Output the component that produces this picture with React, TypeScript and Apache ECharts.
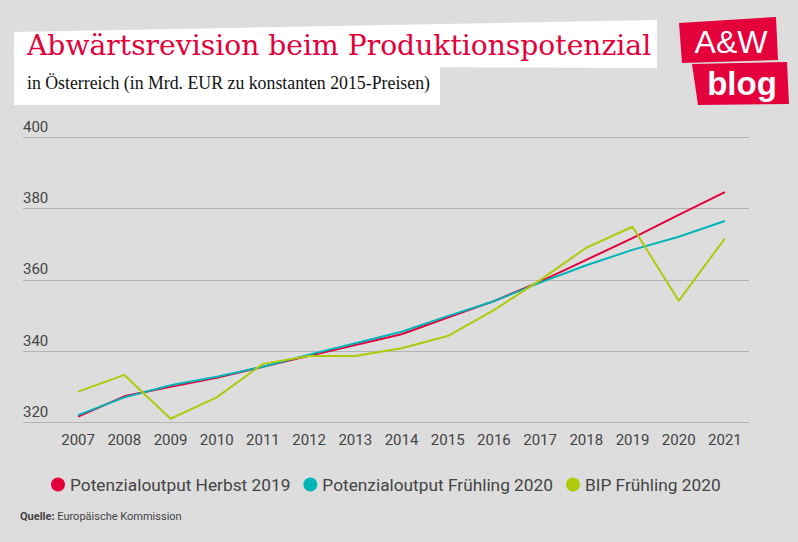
import React, { useEffect, useRef } from "react";
import * as echarts from "echarts";

const years = ["2007","2008","2009","2010","2011","2012","2013","2014","2015","2016","2017","2018","2019","2020","2021"];
const herbst2019 = [321.6,327.3,330.0,332.5,335.6,338.7,341.7,344.7,349.4,354.0,359.5,365.6,371.7,378.2,384.6];
const fruehling2020 = [322.0,327.0,330.4,332.8,335.6,339.0,342.2,345.4,349.8,354.0,359.2,364.1,368.4,372.1,376.5];
const bip2020 = [328.6,333.3,321.0,327.0,336.4,338.6,338.6,340.8,344.2,351.5,359.9,369.0,374.9,354.1,371.6];
const seriesNames = ["Potenzialoutput Herbst 2019","Potenzialoutput Frühling 2020","BIP Frühling 2020"];
const colors = ["#E4003B","#00B5B8","#AFCA0B"];
const yMin = 320, yMax = 400, yStep = 20;

export default function App() {
  const ref = useRef<HTMLDivElement>(null);
  useEffect(() => {
    document.body.style.margin = "0";
    const chart = echarts.init(ref.current!, null, { renderer: "svg" });
    const top = 137.3, bottom = 542 - 422.3;
    chart.setOption({
      animation: false,
      backgroundColor: "#DDDDDD",
      textStyle: { fontFamily: "Roboto" },
      grid: [
        { left: 55, right: 50, top, bottom },
        { left: 23, right: 49, top, bottom },
      ],
      xAxis: [
        {
          type: "category", gridIndex: 0, data: years, boundaryGap: true,
          axisLine: { show: false }, axisTick: { show: false },
          axisLabel: { color: "#444", fontSize: 15, margin: 10, fontFamily: "Roboto" },
        },
        { type: "value", gridIndex: 1, show: false, min: 0, max: 1 },
      ],
      yAxis: [
        { type: "value", gridIndex: 0, min: yMin, max: yMax, interval: yStep, show: false, splitLine: { show: false } },
        {
          type: "value", gridIndex: 1, min: yMin, max: yMax, interval: yStep,
          axisLine: { show: false }, axisTick: { show: false },
          axisLabel: { inside: true, margin: 0, color: "#444", fontSize: 15, verticalAlign: "bottom", padding: [0, 0, 3, 0], fontFamily: "Roboto" },
          splitLine: { show: true, lineStyle: { color: "#B4B4B4", width: 1 } },
        },
      ],
      legend: {
        data: seriesNames, left: 51, top: 476, padding: 0, icon: "circle", itemWidth: 14, itemHeight: 14, itemGap: 13,
        textStyle: { color: "#444", fontSize: 17.3, fontFamily: "Roboto" },
      },
      series: [
        { name: seriesNames[0], type: "line", data: herbst2019, showSymbol: false, color: colors[0], lineStyle: { width: 2 } },
        { name: seriesNames[1], type: "line", data: fruehling2020, showSymbol: false, color: colors[1], lineStyle: { width: 2 } },
        { name: seriesNames[2], type: "line", data: bip2020, showSymbol: false, color: colors[2], lineStyle: { width: 2 } },
      ],
      graphic: [
        { type: "polygon", shape: { points: [[14, 32], [657, 20], [657, 68], [14, 66]] }, style: { fill: "#fff" } },
        { type: "polygon", shape: { points: [[14, 65], [440, 65], [440, 105], [14, 105]] }, style: { fill: "#fff" } },
        { type: "text", left: 27, top: 31, style: { text: "Abwärtsrevision beim Produktionspotenzial", fill: "#E4003B", font: "28.2px 'DejaVu Serif'" } },
        { type: "text", left: 27, top: 74, style: { text: "in Österreich (in Mrd. EUR zu konstanten 2015-Preisen)", fill: "#111", font: "17.8px 'Liberation Serif'" } },
        { type: "polygon", shape: { points: [[679, 23], [776, 17], [778, 60], [682, 63]] }, style: { fill: "#E4003B" } },
        { type: "polygon", shape: { points: [[692, 64], [787, 62], [789, 104], [698, 105]] }, style: { fill: "#E4003B" } },
        { type: "text", x: 731, y: 42, style: { text: "A&W", fill: "#fff", font: "32px 'Liberation Sans'", align: "center", verticalAlign: "middle" } },
        { type: "text", x: 742, y: 83, style: { text: "blog", fill: "#fff", font: "bold 33px 'Liberation Sans'", align: "center", verticalAlign: "middle" } },
        {
          type: "text", left: 20, top: 511,
          style: {
            text: "{b|Quelle:} Europäische Kommission",
            fill: "#444", font: "11px Roboto",
            rich: { b: { fontWeight: "bold", fontSize: 11, fontFamily: "Roboto", fill: "#444" } },
          },
        },
      ],
    });
    return () => chart.dispose();
  }, []);
  return <div ref={ref} style={{ width: 798, height: 542 }} />;
}
